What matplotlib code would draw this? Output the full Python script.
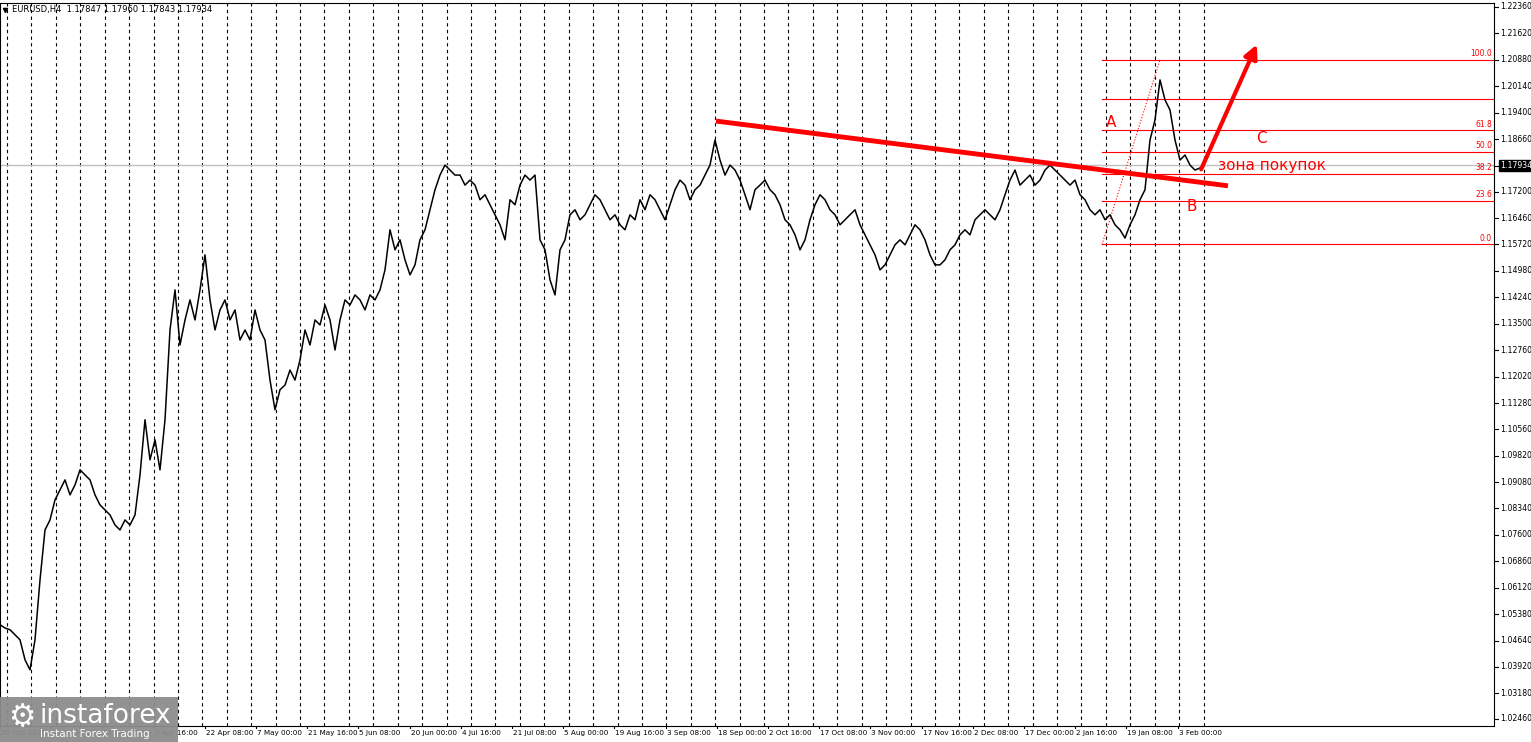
import matplotlib
matplotlib.use("Agg")
import matplotlib.pyplot as plt
import numpy as np

prices = [1.0509,1.0500,1.0495,1.0481,1.0467,1.0411,1.0383,1.0467,1.0634,1.0774,1.0802,1.0858,1.0886,1.0914,1.0872,1.0900,1.0942,1.0928,1.0914,1.0872,
1.0844,1.0830,1.0816,1.0788,1.0774,1.0802,1.0788,1.0816,1.0928,1.1082,1.0970,1.1026,1.0942,1.1082,1.1333,1.1445,1.1291,1.1361,1.1417,1.1361,
1.1445,1.1543,1.1417,1.1333,1.1389,1.1417,1.1361,1.1389,1.1305,1.1333,1.1305,1.1389,1.1333,1.1305,1.1193,1.1110,1.1166,1.1179,1.1221,1.1193,
1.1249,1.1333,1.1291,1.1361,1.1347,1.1403,1.1361,1.1277,1.1361,1.1417,1.1403,1.1431,1.1417,1.1389,1.1431,1.1417,1.1445,1.1501,1.1613,1.1557,
1.1585,1.1529,1.1487,1.1515,1.1585,1.1613,1.1669,1.1725,1.1766,1.1794,1.1780,1.1766,1.1766,1.1738,1.1752,1.1738,1.1697,1.1711,1.1683,1.1655,
1.1627,1.1585,1.1697,1.1683,1.1738,1.1766,1.1752,1.1766,1.1585,1.1557,1.1473,1.1431,1.1557,1.1585,1.1655,1.1669,1.1641,1.1655,1.1683,1.1711,
1.1697,1.1669,1.1641,1.1655,1.1627,1.1613,1.1655,1.1641,1.1697,1.1669,1.1711,1.1697,1.1669,1.1641,1.1683,1.1725,1.1752,1.1738,1.1697,1.1725,
1.1738,1.1766,1.1794,1.1864,1.1808,1.1766,1.1794,1.1780,1.1752,1.1711,1.1669,1.1725,1.1738,1.1752,1.1725,1.1711,1.1683,1.1641,1.1627,1.1599,
1.1557,1.1585,1.1641,1.1683,1.1711,1.1697,1.1669,1.1655,1.1627,1.1641,1.1655,1.1669,1.1627,1.1599,1.1571,1.1543,1.1501,1.1515,1.1543,1.1571,
1.1585,1.1571,1.1599,1.1627,1.1613,1.1585,1.1543,1.1515,1.1515,1.1529,1.1557,1.1571,1.1599,1.1613,1.1599,1.1641,1.1655,1.1669,1.1655,1.1641,
1.1669,1.1711,1.1752,1.1780,1.1738,1.1752,1.1766,1.1738,1.1752,1.1780,1.1794,1.1780,1.1766,1.1752,1.1738,1.1752,1.1711,1.1697,1.1669,1.1655,
1.1669,1.1641,1.1655,1.1627,1.1613,1.1590,1.1627,1.1655,1.1697,1.1725,1.1864,1.1920,1.2032,1.1976,1.1948,1.1864,1.1808,1.1822,1.1794,1.1780,
1.1786]
bars = np.arange(len(prices)) * 5

price_ticks = [1.22360,1.21620,1.20880,1.20140,1.19400,1.18660,1.17920,1.17200,1.16460,1.15720,1.14980,1.14240,1.13500,1.12760,
               1.12020,1.11280,1.10560,1.09820,1.09080,1.08340,1.07600,1.06860,1.06120,1.05380,1.04640,1.03920,1.03180,1.02460]
time_labels = ["20 Feb 2025","6 Mar 16:00","21 Mar 08:00","7 Apr 16:00","22 Apr 08:00","7 May 00:00","21 May 16:00","5 Jun 08:00",
               "20 Jun 00:00","4 Jul 16:00","21 Jul 08:00","5 Aug 00:00","19 Aug 16:00","3 Sep 08:00","18 Sep 00:00","2 Oct 16:00",
               "17 Oct 08:00","3 Nov 00:00","17 Nov 16:00","2 Dec 08:00","17 Dec 00:00","2 Jan 16:00","19 Jan 08:00","3 Feb 00:00"]
fib_levels = [0.0, 23.6, 38.2, 50.0, 61.8, 78.6, 100.0]
fib_low, fib_high = 1.1572, 1.2088
current = 1.17934

W, H = 1531, 742
fig = plt.figure(figsize=(W/100, H/100), dpi=100)
ax = fig.add_axes([0, 16/H, 1494/W, 723/H])
ax.set_xlim(0, 1494)
ax.set_ylim(1.0226, 1.2247)

for gx in np.arange(7, 1210, 24.42):
    ax.axvline(gx, color='black', lw=0.8, ls=(0, (3, 3)), zorder=1)

ax.axhline(current, color='#c0c0c0', lw=1, zorder=1)

ax.plot(bars, prices, color='black', lw=1.1, zorder=3)

for lv in fib_levels:
    p = fib_low + (fib_high - fib_low) * lv / 100
    ax.plot([1102, 1494], [p, p], color='red', lw=0.8, zorder=2)
    if lv != 78.6:
        ax.text(1492, p + 0.0005, f"{lv:.1f}", color='red', fontsize=5.5, ha='right', va='bottom')
ax.plot([1102, 1160], [fib_low, fib_high], color='red', lw=0.8, ls=':', zorder=2)

ax.plot([716, 1228], [1.1917, 1.1736], color='red', lw=3.5, solid_capstyle='butt', zorder=4)
ax.annotate("", xy=(1258, 1.2138), xytext=(1200, 1.1775),
            arrowprops=dict(arrowstyle='-|>,head_length=0.8,head_width=0.4', color='red', lw=3), zorder=5)
ax.text(1106, 1.1913, "A", color='red', fontsize=11, va='center')
ax.text(1256, 1.1868, "C", color='red', fontsize=11, va='center')
ax.text(1187, 1.1678, "B", color='red', fontsize=11, va='center')
ax.text(1218, 1.1792, "зона покупок", color='red', fontsize=11, va='center')

ax.text(12, 1.2228, "EURUSD,H4  1.17847 1.17960 1.17843 1.17934", fontsize=6, va='center')
ax.plot([5], [1.2228], marker='v', color='black', ms=3)

ax.set_xticks([]); ax.set_yticks([])
for s in ax.spines.values():
    s.set_color('black'); s.set_linewidth(0.8)

for t in price_ticks:
    ax.plot([1494, 1498], [t, t], color='black', lw=0.8, clip_on=False)
    ax.text(1500, t, f"{t:.5f}", fontsize=5.6, va='center', ha='left', clip_on=False)
ax.text(1500, current, f"{current:.5f}", fontsize=5.6, va='center', ha='left', color='white',
        bbox=dict(boxstyle='square,pad=0.15', fc='black', ec='black'), clip_on=False)

for i, lab in enumerate(time_labels):
    x = i * 51.2
    ax.plot([x, x], [1.0226, 1.0226 - 0.0006], color='black', lw=0.8, clip_on=False)
    ax.text(x + 1, 1.0226 - 0.0012, lab, fontsize=5.2, va='top', ha='left', clip_on=False)

fig.patches.append(plt.Rectangle((0, 0), 178/W, 45/H, transform=fig.transFigure, fc='#8c8c8c', ec='none', alpha=0.95, zorder=10))
fig.text(40/W, 26/H, "instaforex", fontsize=19, color='white', va='center', zorder=11)
fig.text(40/W, 8/H, "Instant Forex Trading", fontsize=7.5, color='white', va='center', zorder=11)
fig.text(8/W, 24/H, "⚙", fontsize=22, color='white', va='center', zorder=11)

fig.savefig("out.png", dpi=100, facecolor='white')
